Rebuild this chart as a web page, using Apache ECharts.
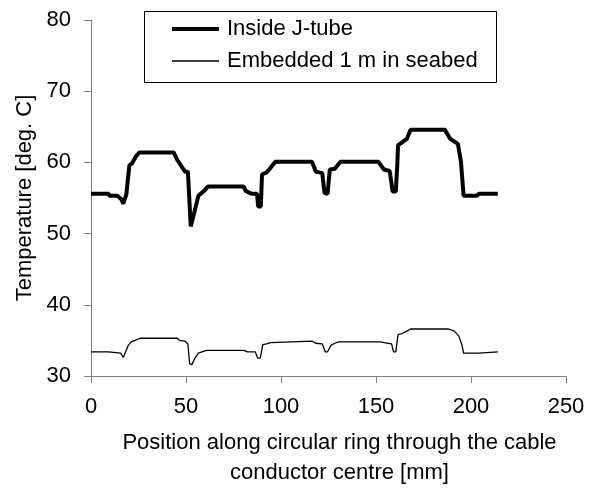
<!DOCTYPE html>
<html>
<head>
<meta charset="utf-8">
<script src="https://cdn.jsdelivr.net/npm/echarts@6/dist/echarts.min.js"></script>
<style>
  html, body { margin: 0; padding: 0; background: #fff; }
  #chart { width: 593px; height: 493px; }
</style>
</head>
<body>
<div id="chart"></div>
<script>
// positions along the ring [mm] and temperatures [deg. C]
const jTubeX = [0, 9.2, 9.8, 14, 16, 17, 18.6, 20.2, 21.5, 23.5, 25.5, 43.5, 45.5, 49.5, 51, 52.5, 53.5, 55.5, 56.5, 59.5, 61.5, 80.4, 81.4, 84.4, 87.4, 88, 89.4, 90, 92.4, 94.4, 97, 116.3, 118.3, 121.7, 122.9, 124.5, 125.7, 128.3, 131.3, 151.2, 154.2, 157.2, 158.8, 160.4, 161.2, 161.6, 163.2, 166.2, 168.2, 186.2, 189.1, 193.1, 194.7, 195.5, 196.1, 203.1, 204.1, 214.1];
const jTubeT = [55.6, 55.6, 55.3, 55.3, 54.8, 54.2, 55.5, 59.6, 59.8, 60.8, 61.4, 61.4, 60.3, 58.7, 58.7, 51.0, 51.0, 54.2, 55.3, 56.0, 56.6, 56.6, 56.0, 55.6, 55.6, 53.8, 53.8, 58.3, 58.6, 59.2, 60.1, 60.1, 58.7, 58.5, 55.7, 55.6, 59.0, 59.1, 60.1, 60.1, 59.0, 58.8, 55.9, 55.9, 59.6, 62.4, 62.7, 63.3, 64.6, 64.6, 63.3, 62.6, 60.1, 57.4, 55.3, 55.3, 55.6, 55.6];

const seabedX = [0, 9.2, 10, 15.6, 17, 19.6, 21.2, 23.1, 25.9, 45.5, 46.5, 49.5, 51, 51.9, 53.1, 54.5, 56.5, 59.5, 61.1, 80.4, 82.4, 86.4, 87.8, 89.1, 90.4, 92.4, 94.4, 95.4, 116.3, 118.3, 121.7, 123.3, 124.5, 126.3, 128.3, 130.3, 152.2, 154.2, 158.2, 159.2, 160.4, 161.6, 163.2, 166.2, 168.2, 188.2, 191.2, 193.6, 195.2, 196.1, 204.1, 205.1, 214.1];
const seabedT = [33.4, 33.4, 33.2, 33.2, 32.6, 34.3, 34.8, 35.0, 35.3, 35.3, 35.0, 34.9, 34.5, 31.7, 31.6, 32.4, 33.2, 33.5, 33.6, 33.6, 33.4, 33.4, 32.5, 32.5, 34.4, 34.5, 34.7, 34.9, 34.9, 34.6, 34.5, 33.4, 33.4, 34.3, 34.6, 34.8, 34.8, 34.7, 34.5, 33.4, 33.4, 35.8, 35.9, 36.3, 36.6, 36.6, 36.3, 35.6, 34.4, 33.2, 33.2, 33.4, 33.4];

const seriesNames = ['Inside J-tube', 'Embedded 1 m in seabed'];
const xTitle = 'Position along circular ring through the cable\nconductor centre [mm]';
const yTitle = 'Temperature [deg. C]';

const zip = (xs, ys) => xs.map((x, i) => [x, ys[i]]);
const font = 'Liberation Sans, Arial, sans-serif';
const axisGray = '#808080';
const lineWidths = [4, 1.3];

const myChart = echarts.init(document.getElementById('chart'), null, { renderer: 'canvas' });

const option = {
  animation: false,
  grid: { left: 91, right: 27, top: 20, bottom: 105 },
  graphic: [{
    type: 'rect',
    shape: { x: 144.5, y: 11.5, width: 352, height: 71 },
    style: { fill: '#fff', stroke: '#000', lineWidth: 1 },
    z: 5
  }],
  legend: {
    orient: 'vertical',
    left: 144,
    top: 11,
    padding: [7, 10, 10, 26],
    itemWidth: 47,
    itemHeight: 14,
    itemGap: 10,
    z: 10,
    itemStyle: { opacity: 0 },
    textStyle: { fontFamily: font, fontSize: 22, color: '#000', lineHeight: 22, padding: [0, 0, 0, 3] },
    data: seriesNames.map((name, i) => ({
      name: name,
      lineStyle: { color: '#000', width: lineWidths[i] }
    }))
  },
  xAxis: {
    type: 'value',
    min: 0,
    max: 250,
    interval: 50,
    name: xTitle,
    nameLocation: 'middle',
    nameGap: 52,
    nameTextStyle: { fontFamily: font, fontSize: 22, color: '#000', lineHeight: 30, padding: [0, 0, 0, 22] },
    axisLine: { show: true, onZero: false, lineStyle: { color: axisGray, width: 1 } },
    axisTick: { show: true, inside: false, length: 7, lineStyle: { color: axisGray } },
    axisLabel: { fontFamily: font, fontSize: 22, color: '#000', margin: 20 },
    splitLine: { show: false }
  },
  yAxis: {
    type: 'value',
    min: 30,
    max: 80,
    interval: 10,
    name: yTitle,
    nameLocation: 'middle',
    nameGap: 53,
    nameTextStyle: { fontFamily: font, fontSize: 22, color: '#000' },
    axisLine: { show: true, lineStyle: { color: axisGray, width: 1 } },
    axisTick: { show: true, inside: false, length: 7, lineStyle: { color: axisGray } },
    axisLabel: { fontFamily: font, fontSize: 22, color: '#000', margin: 20 },
    splitLine: { show: false }
  },
  series: [
    {
      name: seriesNames[0],
      type: 'line',
      data: zip(jTubeX, jTubeT),
      symbol: 'none',
      color: '#000',
      lineStyle: { color: '#000', width: lineWidths[0] }
    },
    {
      name: seriesNames[1],
      type: 'line',
      data: zip(seabedX, seabedT),
      symbol: 'none',
      color: '#000',
      lineStyle: { color: '#000', width: lineWidths[1] }
    }
  ]
};

myChart.setOption(option);
</script>
</body>
</html>
